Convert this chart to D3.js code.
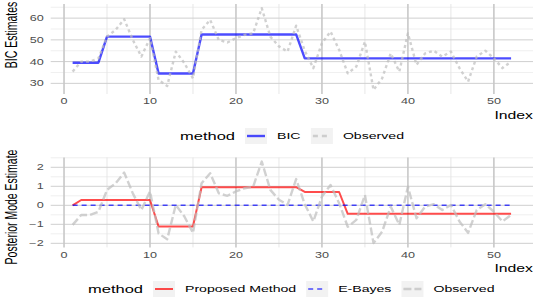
<!DOCTYPE html>
<html>
<head>
<meta charset="utf-8">
<script src="https://cdn.jsdelivr.net/npm/d3@7"></script>
<style>
  html, body { margin: 0; padding: 0; background: #fff; }
  svg { display: block; font-family: "Liberation Sans", Arial, sans-serif; }
</style>
</head>
<body>
<svg id="chart" width="540" height="305"></svg>
<script>
// data
const index = d3.range(1, 53);
const observedRaw = [35.4, 40, 40, 41.5, 51.5, 54.6, 59.5, 50, 42.3, 50.8,
  31.5, 28.8, 44.6, 39.3, 32.3, 54.6, 59.2, 50, 48.8, 50.8,
  52.3, 53, 64.6, 51.5, 47, 44.6, 56.5, 45, 37, 48.5,
  53.8, 45.4, 34.6, 37.7, 49.2, 27, 32.3, 43.8, 35.4, 53,
  38.5, 43.8, 45, 42.3, 44.6, 37, 30.8, 42.3, 45, 41.5, 37, 40];
const bicEstimate = [39.5, 39.5, 39.5, 39.5, 51.5, 51.5, 51.5, 51.5, 51.5, 51.5,
  34.5, 34.5, 34.5, 34.5, 34.5, 52.5, 52.5, 52.5, 52.5, 52.5,
  52.5, 52.5, 52.5, 52.5, 52.5, 52.5, 52.5, 41.5, 41.5, 41.5,
  41.5, 41.5, 41.5, 41.5, 41.5, 41.5, 41.5, 41.5, 41.5, 41.5,
  41.5, 41.5, 41.5, 41.5, 41.5, 41.5, 41.5, 41.5, 41.5, 41.5, 41.5, 41.5];
const observedStd = [-1.03, -0.51, -0.51, -0.34, 0.81, 1.16, 1.72, 0.63, -0.25, 0.73,
  -1.48, -1.79, 0.02, -0.59, -1.45, 1.16, 1.69, 0.63, 0.5, 0.73,
  0.9, 0.98, 2.3, 0.81, 0.29, 0.02, 1.38, 0.06, -0.85, 0.46,
  1.07, 0.11, -1.13, -0.77, 0.54, -1.99, -1.39, -0.07, -1.03, 0.98,
  -0.68, -0.07, 0.06, -0.25, 0.02, -0.85, -1.45, -0.25, 0.06, -0.34, -0.85, -0.51];
const proposed = [0, 0.28, 0.28, 0.28, 0.28, 0.28, 0.28, 0.28, 0.28, 0.28,
  -1.12, -1.12, -1.12, -1.12, -1.12, 0.95, 0.95, 0.95, 0.95, 0.95,
  0.95, 0.95, 0.95, 0.95, 0.95, 0.95, 0.95, 0.7, 0.7, 0.7,
  0.7, 0.7, -0.45, -0.45, -0.45, -0.45, -0.45, -0.45, -0.45, -0.45,
  -0.45, -0.45, -0.45, -0.45, -0.45, -0.45, -0.45, -0.45, -0.45, -0.45, -0.45, -0.45];
const eBayes = index.map(() => 0);

const xTicks = [0, 10, 20, 30, 40, 50];
const xMinor = [5, 15, 25, 35, 45];
const topTicks = [30, 40, 50, 60];
const topMinor = [35, 45, 55, 65];
const botTicks = [-2, -1, 0, 1, 2];
const botMinor = [-1.5, -0.5, 0.5, 1.5, 2.5];

const SX = 1.5; // the reference is stretched horizontally
const svg = d3.select("#chart");

const x = d3.scaleLinear().domain([-1.55, 54.55]).range([50.7, 533]);

function hText(g, str, px, py, size, anchor, color) {
  return g.append("text")
    .attr("transform", "translate(" + px + "," + py + ") scale(" + SX + ",1)")
    .attr("text-anchor", anchor).attr("dominant-baseline", "central")
    .attr("font-size", size).attr("fill", color).text(str);
}

function panel(y, ticks, minor, fmt, yTitle, titleY, series) {
  const g = svg.append("g");
  const [r0, r1] = x.range();
  const [b, t] = y.range();
  g.selectAll(".hmin").data(minor).join("line")
    .attr("x1", r0).attr("x2", r1).attr("y1", y).attr("y2", y)
    .attr("stroke", "#e4e4e4").attr("stroke-width", 0.6);
  g.selectAll(".vmin").data(xMinor).join("line")
    .attr("x1", x).attr("x2", x).attr("y1", t).attr("y2", b)
    .attr("stroke", "#e4e4e4").attr("stroke-width", 0.9);
  g.selectAll(".hmaj").data(ticks).join("line")
    .attr("x1", r0).attr("x2", r1).attr("y1", y).attr("y2", y)
    .attr("stroke", "#cfcfcf").attr("stroke-width", 1);
  g.selectAll(".vmaj").data(xTicks).join("line")
    .attr("x1", x).attr("x2", x).attr("y1", t).attr("y2", b)
    .attr("stroke", "#c8c8c8").attr("stroke-width", 1.6);

  ticks.forEach(v => hText(g, fmt(v), r0 - 7, y(v), 8.4, "end", "#4d4d4d"));
  xTicks.forEach(v => hText(g, v, x(v), b + 7, 8.4, "middle", "#4d4d4d"));
  hText(g, "Index", r1, b + 21, 10.5, "end", "#000");

  g.append("text")
    .attr("transform", "translate(12," + titleY + ") rotate(-90) scale(1," + SX + ")")
    .attr("text-anchor", "middle").attr("dominant-baseline", "central")
    .attr("font-size", 10.5).attr("fill", "#000").text(yTitle);

  const line = vals => d3.line().x((d, i) => x(index[i])).y(d => y(d))(vals);
  series.forEach(s => {
    g.append("path").attr("d", line(s.values))
      .attr("fill", "none").attr("stroke", s.color).attr("stroke-opacity", 0.7)
      .attr("stroke-width", s.width).attr("stroke-dasharray", s.dash || null)
      .attr("stroke-linejoin", "round");
  });
  return g;
}

function legend(cy, startX, items) {
  const g = svg.append("g");
  let cx = startX;
  const title = hText(g, "method", cx, cy, 11, "start", "#000");
  cx += title.node().getBBox().width * SX + 10;
  items.forEach(it => {
    g.append("rect").attr("x", cx).attr("y", cy - 8).attr("width", 22).attr("height", 16)
      .attr("fill", "#f2f2f2");
    g.append("line").attr("x1", cx + 2).attr("x2", cx + 20).attr("y1", cy).attr("y2", cy)
      .attr("stroke", it.color).attr("stroke-opacity", 0.7).attr("stroke-width", it.width)
      .attr("stroke-dasharray", it.keyDash || it.dash || null);
    cx += 22 + 10;
    const t = hText(g, it.label, cx, cy, 9.4, "start", "#000");
    cx += t.node().getBBox().width * SX + 10;
  });
}

const fmtMinus = v => (v < 0 ? "\u2212" + Math.abs(v) : String(v));

const yTop = d3.scaleLinear().domain([25.1, 66.5]).range([94, 4]);
panel(yTop, topTicks, topMinor, fmtMinus, "BIC Estimates", 35, [
  { values: bicEstimate, color: "blue", width: 2.4 },
  { values: observedRaw, color: "#bebebe", width: 2.4, dash: "3,3" }
]);
legend(136, 180, [
  { label: "BIC", color: "blue", width: 2.4 },
  { label: "Observed", color: "#bebebe", width: 2.4, dash: "3,3", keyDash: "5,4" }
]);

const yBot = d3.scaleLinear().domain([-2.215, 2.515]).range([247.4, 157.5]);
panel(yBot, botTicks, botMinor, fmtMinus, "Posterior Mode Estimate", 207, [
  { values: proposed, color: "red", width: 2 },
  { values: eBayes, color: "blue", width: 1.6, dash: "5,4" },
  { values: observedStd, color: "#bebebe", width: 2.4, dash: "8,3" }
]);
legend(289, 88, [
  { label: "Proposed Method", color: "red", width: 2 },
  { label: "E-Bayes", color: "blue", width: 1.6, dash: "5,4" },
  { label: "Observed", color: "#bebebe", width: 2.4, dash: "8,3" }
]);
</script>
</body>
</html>
